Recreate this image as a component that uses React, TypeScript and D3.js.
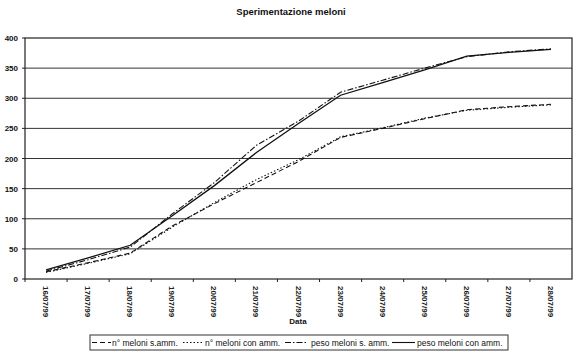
import React from "react";
import * as d3 from "d3";

const categories = ["16/07/99","17/07/99","18/07/99","19/07/99","20/07/99","21/07/99","22/07/99","23/07/99","24/07/99","25/07/99","26/07/99","27/07/99","28/07/99"];
const nMeloniSAmm = [12, 27, 43, 88, 125, 160, 195, 235, 250, 266, 281, 286, 290];
const nMeloniConAmm = [11, 26, 42, 86, 127, 165, 198, 236, 251, 267, 280, 285, 289];
const pesoMeloniSAmm = [13, 32, 53, 108, 160, 222, 262, 310, 330, 350, 369, 377, 382];
const pesoMeloniConAmm = [15, 35, 56, 105, 155, 210, 258, 305, 326, 347, 370, 376, 381];
const yTicks = [0, 50, 100, 150, 200, 250, 300, 350, 400];

const seriesNames = ["n° meloni s.amm.", "n° meloni con amm.", "peso meloni s. amm.", "peso meloni con amm."];
const seriesData = [nMeloniSAmm, nMeloniConAmm, pesoMeloniSAmm, pesoMeloniConAmm];
const dashes = ["5,3", "1.5,2", "6,2,1.5,2", "none"];

const legendLayout = [
  { x0: 92, x1: 111, tx: 112 },
  { x0: 183, x1: 202, tx: 205 },
  { x0: 285, x1: 307, tx: 311 },
  { x0: 392, x1: 415, tx: 417 },
];

export default function App() {
  const W = 580, H = 354;
  const left = 25, right = 572, top = 38, bottom = 279;
  const x = d3.scaleBand<string>().domain(categories).range([left, right]);
  const y = d3.scaleLinear().domain([0, 400]).range([bottom, top]);
  const cx = (c: string) => (x(c) as number) + x.bandwidth() / 2;
  const line = d3.line<number>().x((_, i) => cx(categories[i])).y((d) => y(d));
  const font = "'Liberation Sans', Arial, sans-serif";
  return (
    <svg width={W} height={H} style={{ position: "absolute", left: 0, top: 0, background: "#fff" }} fontFamily={font}>
      <rect x={0} y={0} width={W} height={H} fill="#fff" />
      <text x={291} y={15} textAnchor="middle" fontSize={9.5} fontWeight="bold" fill="#111">Sperimentazione meloni</text>
      {yTicks.filter((t) => t > 0 && t < 400).map((t) => (
        <line key={t} x1={left} x2={right} y1={y(t)} y2={y(t)} stroke="#333" strokeWidth={1} />
      ))}
      <rect x={left} y={top} width={right - left} height={bottom - top} fill="none" stroke="#222" strokeWidth={1.2} />
      {yTicks.map((t) => (
        <g key={t}>
          <line x1={left - 3} x2={left} y1={y(t)} y2={y(t)} stroke="#222" />
          <text x={left - 7} y={y(t) + 3} textAnchor="end" fontSize={8} fontWeight="bold" fill="#111">{t}</text>
        </g>
      ))}
      {categories.map((c, i) => (
        <line key={"t" + i} x1={x(c) as number} x2={x(c) as number} y1={bottom} y2={bottom + 3} stroke="#222" />
      ))}
      {categories.map((c) => (
        <text key={c} transform={`translate(${cx(c) - 3},${bottom + 7}) rotate(90)`} fontSize={8} fontWeight="bold" fill="#222">{c}</text>
      ))}
      <text x={298} y={324} textAnchor="middle" fontSize={8} fontWeight="bold" fill="#111">Data</text>
      {seriesData.map((s, k) => (
        <path key={k} d={line(s) as string} fill="none" stroke="#111" strokeWidth={k === 3 ? 1.3 : 1.1} strokeDasharray={dashes[k]} />
      ))}
      <rect x={90} y={335} width={418} height={15} fill="#fff" stroke="#333" strokeWidth={1} />
      {legendLayout.map((l, k) => (
        <g key={k}>
          <line x1={l.x0} x2={l.x1} y1={342.5} y2={342.5} stroke="#111" strokeWidth={1.1} strokeDasharray={dashes[k]} />
          <text x={l.tx} y={345.5} fontSize={8.5} fill="#111">{seriesNames[k]}</text>
        </g>
      ))}
    </svg>
  );
}
